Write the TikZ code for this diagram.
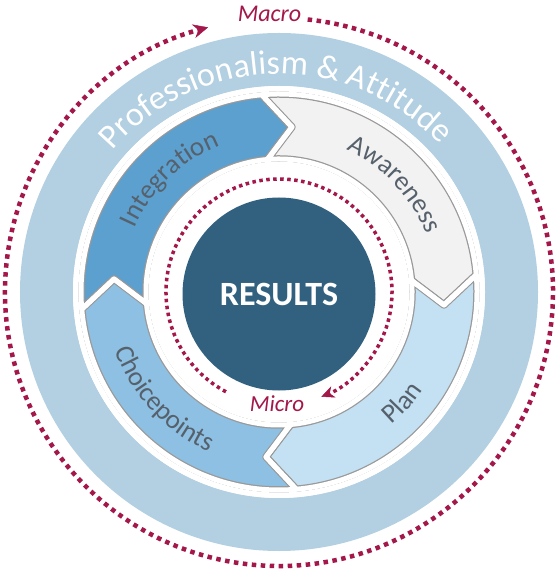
\documentclass[tikz,border=0pt]{standalone}
\usepackage{fontspec}
\setmainfont{Carlito}
\usetikzlibrary{arrows.meta,decorations.text}

\definecolor{bandblue}{HTML}{B3CFE2}
\definecolor{intblue}{HTML}{5CA0D0}
\definecolor{awaregrey}{HTML}{F2F2F2}
\definecolor{planblue}{HTML}{C4E0F3}
\definecolor{choiceblue}{HTML}{8DC0E3}
\definecolor{resultsblue}{HTML}{32607F}
\definecolor{macrored}{HTML}{A3174A}
\definecolor{labelgrey}{HTML}{56616C}

% one arrow of the cycle, given the angle of its tail
\newcommand{\cyclearrow}[1]{%
  (#1:198pt) arc[start angle=#1, end angle=#1-90, radius=198pt]
  -- (#1-99.5:165.5pt) -- (#1-90:133pt)
  arc[start angle=#1-90, end angle=#1, radius=133pt]
  -- (#1-9.5:165.5pt) -- cycle}

\begin{document}
\begin{tikzpicture}[
    bigdots/.style={draw=macrored, line width=4.5pt, dash pattern=on 4.5pt off 4.5pt},
    smalldots/.style={draw=macrored, line width=3.5pt, dash pattern=on 3.5pt off 3.5pt},
    ringlabel/.style={decorate, decoration={text along path, text align=center, text={#1}}},
  ]
  \useasboundingbox (-279pt,-277pt) rectangle (277pt,292pt);
  % outer band, white ring inside it
  \fill[bandblue] (0,0) circle[radius=259pt];
  \fill[white] (0,0) circle[radius=206pt];
  % the four arrows: grey edge first, then the white gaps
  \foreach \tail/\col in {185/intblue, 95/awaregrey, 5/planblue, -85/choiceblue}
    \filldraw[fill=\col, draw=black!40, line width=7.5pt, line join=round] \cyclearrow{\tail};
  \foreach \tail in {185, 95, 5, -85}
    \draw[white, line width=5pt, line join=round] \cyclearrow{\tail};
  \fill[white, even odd rule] (0,0) circle[radius=206pt] circle[radius=200.5pt];
  \fill[white] (0,0) circle[radius=130.5pt];
  % centre
  \node[circle, fill=resultsblue, minimum size=193pt, inner sep=0pt, text=white,
    font=\bfseries\fontsize{34}{34}\selectfont] (results) at (0,-2pt) {RESULTS};
  % micro loop
  \draw[smalldots, -{Stealth[length=13pt, width=12pt, inset=4pt, line width=0.5pt]}]
    (242:113pt) arc[start angle=242, end angle=-68, radius=113pt];
  \node[text=macrored, font=\itshape\fontsize{23}{23}\selectfont, anchor=base]
    (micro) at (-2pt,-119pt) {Micro};
  % macro loop
  \draw[bigdots, -{Stealth[length=15pt, width=14pt, inset=5pt, line width=0.5pt]}]
    (84:274pt) arc[start angle=84, end angle=-255, radius=274pt];
  \node[text=macrored, font=\itshape\fontsize{24}{24}\selectfont, anchor=base]
    (macro) at (-9.5pt,270pt) {Macro};
  % texts on the rings
  \path[ringlabel={|\color{white}\fontsize{34}{34}\selectfont|Professionalism {\&} Attitude}]
    (160:218pt) arc[start angle=160, end angle=22, radius=218pt];
  \path[ringlabel={|\color{labelgrey}\fontsize{27}{27}\selectfont|Integration}]
    (184:158pt) arc[start angle=184, end angle=84, radius=158pt];
  \path[ringlabel={|\color{labelgrey}\fontsize{27}{27}\selectfont|Awareness}]
    (93:158pt) arc[start angle=93, end angle=-7, radius=158pt];
  \path[ringlabel={|\color{labelgrey}\fontsize{27}{27}\selectfont|Plan}]
    (-92:174pt) arc[start angle=-92, end angle=8, radius=174pt];
  \path[ringlabel={|\color{labelgrey}\fontsize{27}{27}\selectfont|Choicepoints}]
    (173:174pt) arc[start angle=173, end angle=273, radius=174pt];
\end{tikzpicture}
\end{document}
